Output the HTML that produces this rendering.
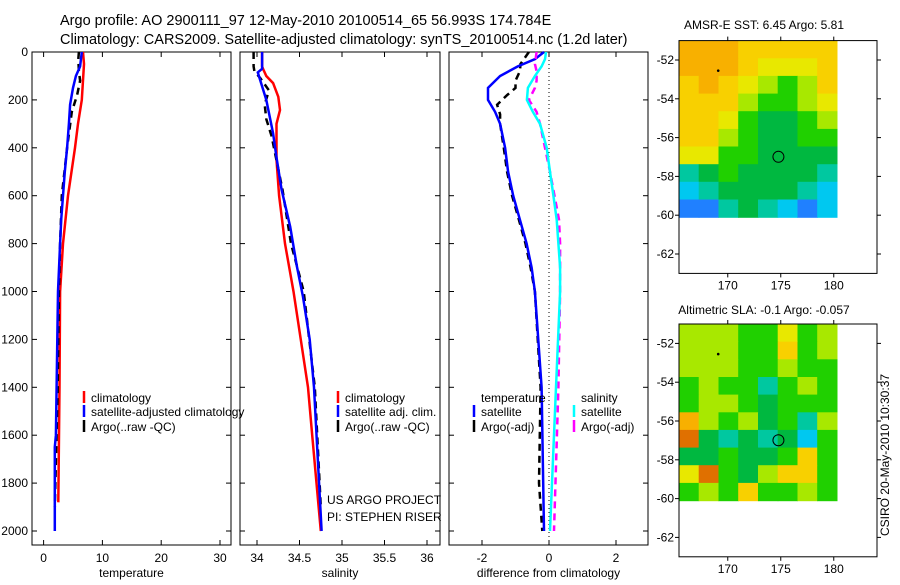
<!DOCTYPE html>
<html><head><meta charset="utf-8"><style>
body{margin:0;background:#fff;}
svg text{font-family:"Liberation Sans",sans-serif;fill:#000;}
</style></head><body>
<svg id="c" width="900" height="580" viewBox="0 0 900 580" xmlns="http://www.w3.org/2000/svg">
<text x="60" y="25" font-size="14.5">Argo profile: AO 2900111_97 12-May-2010 20100514_65 56.993S 174.784E</text>
<text x="60" y="44" font-size="14.5">Climatology: CARS2009. Satellite-adjusted climatology: synTS_20100514.nc (1.2d later)</text>
<text x="764" y="29" font-size="12" text-anchor="middle">AMSR-E SST: 6.45 Argo: 5.81</text>
<text x="764" y="314" font-size="12" text-anchor="middle">Altimetric SLA: -0.1 Argo: -0.057</text>
<text transform="translate(889,455) rotate(-90)" font-size="12" text-anchor="middle">CSIRO 20-May-2010 10:30:37</text>
</svg>
<script>
// ---- data ----
var depthTicks=[0,200,400,600,800,1000,1200,1400,1600,1800,2000];
var tempTicks=[0,10,20,30];
var salTicks=[34,34.5,35,35.5,36];
var diffTicks=[-2,0,2];
var tempClimDepth=[0,50,200,300,400,600,800,1000,1400,1880];
var tempClim=[6.7,6.87,6.5,5.85,5.34,4.15,3.3,2.8,2.7,2.5];
var tempSatDepth=[0,60,100,150,220,300,400,500,700,800,1000,1600,1650,2000];
var tempSat=[6.5,6.2,5.5,5.0,4.5,4.3,4.0,3.6,3.0,2.8,2.45,2.1,1.9,1.9];
var tempArgoDepth=[0,30,80,120,180,250,400,600,800,1000,1400,1900];
var tempArgo=[6.0,5.9,6.0,6.2,5.7,4.8,4.0,3.1,2.8,2.6,2.4,1.9];
var salClimDepth=[0,60,70,100,130,187,242,300,450,600,800,1000,1400,1600,2000];
var salClim=[34.06,34.06,34.07,34.11,34.19,34.25,34.27,34.23,34.23,34.26,34.33,34.43,34.6,34.65,34.75];
var salSatDepth=[0,70,85,200,340,440,575,730,895,1020,1200,1400,2000];
var salSat=[34.06,34.06,34.01,34.11,34.19,34.23,34.29,34.39,34.47,34.54,34.62,34.67,34.76];
var salArgoDepth=[0,60,80,110,160,220,280,350,575,800,1000,1400,1900];
var salArgo=[33.96,33.96,33.97,34.04,34.14,34.09,34.11,34.17,34.3,34.4,34.55,34.68,34.75];
var dTempSatDepth=[0,30,60,100,150,200,250,300,400,500,600,700,800,900,1000,1400,2000];
var dTempSat=[-0.15,-0.42,-0.93,-1.46,-1.82,-1.82,-1.61,-1.46,-1.31,-1.22,-1.07,-0.87,-0.67,-0.52,-0.42,-0.22,-0.15];
var dTempArgoDepth=[0,50,80,120,150,180,220,260,300,400,500,600,700,800,900,1000,1400,1800,2000];
var dTempArgo=[-0.6,-0.85,-0.87,-1.0,-1.0,-1.25,-1.55,-1.46,-1.46,-1.35,-1.25,-1.1,-0.9,-0.7,-0.55,-0.42,-0.25,-0.3,-0.2];
var dSalSatDepth=[0,30,60,100,150,200,250,300,400,500,600,700,800,900,1000,1400,2000];
var dSalSat=[-0.09,-0.12,-0.22,-0.42,-0.63,-0.66,-0.48,-0.27,-0.07,0.03,0.13,0.23,0.28,0.33,0.33,0.21,0.03];
var dSalArgoDepth=[0,50,80,120,150,200,250,300,500,700,800,1000,1400,2000];
var dSalArgo=[-0.37,-0.42,-0.37,-0.37,-0.42,-0.6,-0.37,-0.27,0.03,0.3,0.33,0.33,0.28,0.15];
var latTicks=[-52,-54,-56,-58,-60,-62];
var lonTicks=[170,175,180];
var sstGrid=[
[9,9,9,8,8,8,8,8],[9,9,9,8,7,7,7,8],[8,9,8,7,6,5,6,8],[8,8,8,6,5,5,6,7],[8,8,7,5,4,4,5,6],
[8,8,6,5,4,4,5,5],[7,7,5,5,4,4,4,4],[3,4,5,4,4,4,4,3],[2,3,4,4,4,4,3,2],[1,1,3,4,3,2,1,2]];
var slaGrid=[
[6,6,6,5,5,7,5,6],[6,6,6,5,5,8,5,6],[6,6,6,5,5,6,5,5],[5,6,5,5,3,5,6,5],[5,6,6,5,4,5,5,5],
[9,6,5,6,4,5,3,6],[10,4,3,4,3,4,2,5],[4,4,5,4,4,5,8,5],[7,10,5,4,6,8,8,5],[5,6,5,8,5,5,6,5]];
var palette=["#0010a0","#2080ff","#00c8f0","#00c8a0","#00b840","#20d000","#a8e800","#e8e800","#f8d000","#f8b000","#e07000","#c03000"];

var svg=document.getElementById('c');
var NS="http://www.w3.org/2000/svg";
function mk(tag,attrs,parent){var e=document.createElementNS(NS,tag);for(var k in attrs)e.setAttribute(k,attrs[k]);(parent||svg).appendChild(e);return e;}
function txt(x,y,s,size,anchor,parent){var t=mk('text',{x:x,y:y,'font-size':size,'text-anchor':anchor||'start'},parent);t.textContent=s;return t;}

var Y0=52,YK=0.2395;
function yD(d){return Y0+d*YK;}
var panels=[
 {name:'temperature',x0:32,x1:231,v0:43.6,k:5.88,ref:0,ticks:tempTicks,label:'temperature'},
 {name:'salinity',x0:240,x1:440,v0:257,k:85,ref:34,ticks:salTicks,label:'salinity'},
 {name:'difference',x0:449,x1:648,v0:549,k:33.5,ref:0,ticks:diffTicks,label:'difference from climatology'}];
var Ybot=545;
panels.forEach(function(p,i){
  var g=mk('g',{});
  
  
  p.g=g;
  p.x=function(v){return p.v0+(v-p.ref)*p.k;};
  var f=mk('rect',{x:p.x0,y:Y0,width:p.x1-p.x0,height:Ybot-Y0,fill:'#fff',stroke:'#000','stroke-width':1},g);
  
  
  p.ticks.forEach(function(v){
    var x=p.x(v);
    mk('line',{x1:x,y1:Y0,x2:x,y2:Y0+5,stroke:'#000'},g);
    mk('line',{x1:x,y1:Ybot,x2:x,y2:Ybot-5,stroke:'#000'},g);
    var t=txt(x,Ybot+17,String(v),12,'middle',g);
    
    
  });
  depthTicks.forEach(function(d){
    var y=yD(d);
    mk('line',{x1:p.x0,y1:y,x2:p.x0+5,y2:y,stroke:'#000'},g);
    mk('line',{x1:p.x1,y1:y,x2:p.x1-5,y2:y,stroke:'#000'},g);
    if(i==0){var t=txt(28,y+4,String(d),12,'end',g);
      
      }
  });
  var xl=txt((p.x0+p.x1)/2,Ybot+32,p.label,12,'middle',g);
  
  
});
var p2=panels[2];mk('line',{x1:p2.x(0),y1:Y0,x2:p2.x(0),y2:Ybot,stroke:'#000','stroke-dasharray':'1 3'},p2.g);

function series(p,depths,vals,color,dash,name){
  var pts=depths.map(function(d,j){return p.x(vals[j]).toFixed(1)+','+yD(d).toFixed(1);}).join(' ');
  var a={points:pts,fill:'none',stroke:color,'stroke-width':2.5};
  if(dash)a['stroke-dasharray']='7 5';
  var l=mk('polyline',a,p.g);
  
  
}
series(panels[0],tempClimDepth,tempClim,'#ff0000',false,'temperature-climatology-line');
series(panels[0],tempArgoDepth,tempArgo,'#000',true,'temperature-argo-line');
series(panels[0],tempSatDepth,tempSat,'#0000ff',false,'temperature-satellite-line');
series(panels[1],salClimDepth,salClim,'#ff0000',false,'salinity-climatology-line');
series(panels[1],salArgoDepth,salArgo,'#000',true,'salinity-argo-line');
series(panels[1],salSatDepth,salSat,'#0000ff',false,'salinity-satellite-line');
series(panels[2],dTempArgoDepth,dTempArgo,'#000',true,'diff-temperature-argo-line');
series(panels[2],dTempSatDepth,dTempSat,'#0000ff',false,'diff-temperature-satellite-line');
series(panels[2],dSalArgoDepth,dSalArgo,'#ff00ff',true,'diff-salinity-argo-line');
series(panels[2],dSalSatDepth,dSalSat,'#00ffff',false,'diff-salinity-satellite-line');

function legend(x,y,color,label,name){
  mk('line',{x1:x,y1:y-11,x2:x,y2:y+1,stroke:color,'stroke-width':2.5});
  var t=txt(x+7,y,label,12);
  
  
}
legend(84,402,'#ff0000','climatology','legend-temp-climatology');
legend(84,416,'#0000ff','satellite-adjusted climatology','legend-temp-satellite');
legend(84,431,'#000','Argo(..raw -QC)','legend-temp-argo');
mk('line',{x1:240,y1:Y0,x2:240,y2:Ybot,stroke:'#000'});
legend(338,402,'#ff0000','climatology','legend-sal-climatology');
legend(338,416,'#0000ff','satellite adj. clim.','legend-sal-satellite');
legend(338,431,'#000','Argo(..raw -QC)','legend-sal-argo');
var h1=txt(481,402,'temperature',12);
var h2=txt(581,402,'salinity',12);
legend(474,416,'#0000ff','satellite','legend-dtemp-satellite');
legend(474,431,'#000','Argo(-adj)','legend-dtemp-argo');
legend(574,416,'#00ffff','satellite','legend-dsal-satellite');
legend(574,431,'#ff00ff','Argo(-adj)','legend-dsal-argo');
var pi1=txt(327,504,'US ARGO PROJECT',12);
var pi2=txt(327,521,'PI: STEPHEN RISER',12);

function map(top,grid,name){
  var g=mk('g',{});
  
  
  var L=679,R=877,lonL=165.4,lonK=10.6,latK=19.4;
  function X(lon){return L+(lon-lonL)*lonK;}
  function Y(lat){return top+(-51-lat)*latK;}
  mk('rect',{x:L,y:top,width:R-L,height:Y(-63)-top,fill:'#fff',stroke:'none'},g);
  var rows=grid.length,cols=grid[0].length;
  var lonA=165.4,lonB=180.3,latA=-51,latB=-60.1;
  for(var r=0;r<rows;r++)for(var c=0;c<cols;c++){
    var x0=X(lonA+(lonB-lonA)*c/cols),x1=X(lonA+(lonB-lonA)*(c+1)/cols);
    var y0=Y(latA+(latB-latA)*r/rows),y1=Y(latA+(latB-latA)*(r+1)/rows);
    var cell=mk('rect',{x:x0.toFixed(1),y:y0.toFixed(1),width:(x1-x0+0.6).toFixed(1),height:(y1-y0+0.6).toFixed(1),fill:palette[grid[r][c]]},g);
    
    
  }
  mk('rect',{x:L,y:top,width:R-L,height:Y(-63)-top,fill:'none',stroke:'#000'},g);
  latTicks.forEach(function(l){var y=Y(l);
    mk('line',{x1:L,y1:y,x2:L-4,y2:y,stroke:'#000'},g);
    mk('line',{x1:R,y1:y,x2:R+4,y2:y,stroke:'#000'},g);
    var t=txt(L-5,y+4,String(l),12,'end',g);
    
    });
  lonTicks.forEach(function(l){var x=X(l);
    mk('line',{x1:x,y1:top,x2:x,y2:top-4,stroke:'#000'},g);
    mk('line',{x1:x,y1:Y(-63),x2:x,y2:Y(-63)+4,stroke:'#000'},g);
    var t=txt(x,Y(-63)+16,String(l),12,'middle',g);
    
    });
  var m=mk('circle',{cx:X(174.78),cy:Y(-56.99),r:5.5,fill:'none',stroke:'#000'},g);
  
  
  mk('circle',{cx:X(169.1),cy:Y(-52.55),r:1.3,fill:'#000'},g);
}
map(40.6,sstGrid,'sst-map');
map(324,slaGrid,'sla-map');
</script>
</body></html>
